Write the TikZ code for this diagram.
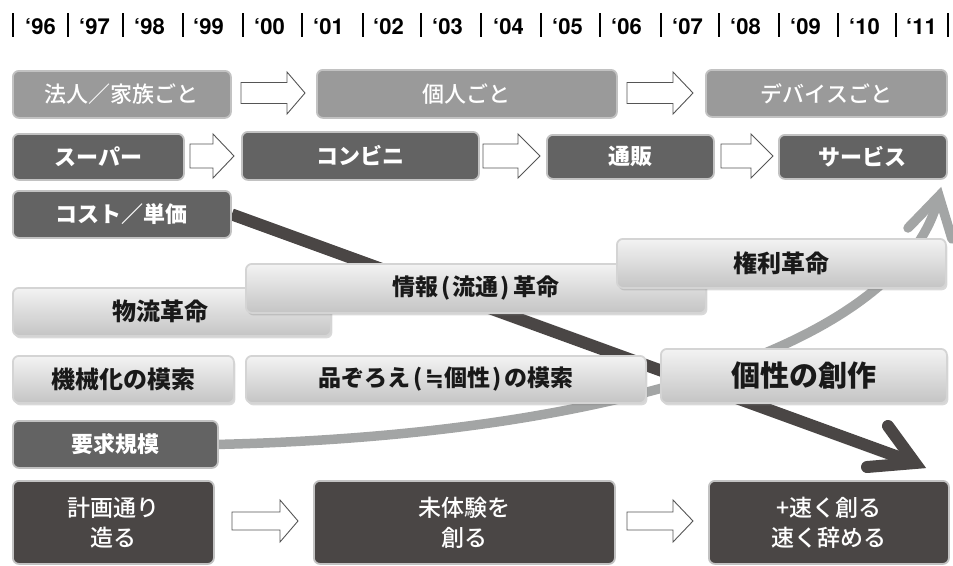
\documentclass[tikz,border=0pt]{standalone}
\usepackage{fontspec}
\setmainfont{TeX Gyre Heros}
\newfontfamily\jp{Noto Sans CJK JP}
\newfontfamily\jpm{Noto Sans CJK JP Medium}
\newfontfamily\dv{DejaVu Sans}
\usetikzlibrary{shadows}
\pgfdeclarelayer{bg}
\pgfsetlayers{bg,main}
\definecolor{rowa}{HTML}{9A9A9A}
\definecolor{rowb}{HTML}{636363}
\definecolor{rowc}{HTML}{4A4645}
\definecolor{rim}{HTML}{C2C2C2}
\definecolor{glt}{HTML}{F3F3F3}
\definecolor{gdk}{HTML}{C4C4C4}
\definecolor{grim}{HTML}{D4D4D4}
\definecolor{curvec}{HTML}{A3A5A5}
\definecolor{arrline}{HTML}{555555}
\newcommand\hollowarr[6]{\draw[hollow] (#1,{#3-#4}) -- (#5,{#3-#4}) -- (#5,{#3-#6}) -- (#2,#3) -- (#5,{#3+#6}) -- (#5,{#3+#4}) -- (#1,{#3+#4}) -- cycle;}
\newcommand\fs[2]{\fontsize{#1}{#2}\selectfont}
\newcommand\lp{\kern3pt(\kern2pt}
\newcommand\rp{\kern2pt)\kern3pt}
\begin{document}
\begin{tikzpicture}[x=1pt,y=-1pt,
  base/.style={anchor=north west, rounded corners=6pt, inner sep=0pt, align=center, text=white, line width=1.8pt},
  boxa/.style={base, fill=rowa, draw=rim, font=\jpm\fs{22}{26}},
  boxb/.style={base, fill=rowb, draw=rim, font=\jp\bfseries\fs{22}{26}},
  boxc/.style={base, fill=rowc, draw=rim, font=\jpm\fs{23}{30}},
  gbox/.style={base, top color=glt, bottom color=gdk, draw=grim, text=black!90, font=\jp\bfseries\fs{23}{27},
    drop shadow={shadow xshift=1.5pt, shadow yshift=-2.5pt, opacity=0.3}},
  hollow/.style={draw=arrline, fill=white, line width=0.9pt},
  darkl/.style={draw=rowc, line width=12pt},
  grayl/.style={draw=curvec, line width=9.5pt},
  yearlbl/.style={anchor=west, inner sep=0pt, font=\bfseries\fs{22}{26}}
]
\useasboundingbox (0,0) rectangle (953,565);

% year scale
\foreach \b in {13,68,123,183,243,302,363,421,481,541,600,661,719,779,838,896,948}
  \draw[line width=2pt] (\b,13) -- (\b,37);
\foreach \t/\y in {25/96,79/97,134/98,193/99,254/00,313/01,373/02,432/03,493/04,552/05,611/06,672/07,730/08,790/09,849/10,906/11}
  \node[yearlbl] (y\y) at (\t,26.5) {‘\y};

% row 1
\node[boxa, minimum width=218pt, minimum height=47pt] (a1) at (12,70) {法人／家族ごと};
\node[boxa, minimum width=300pt, minimum height=48pt] (a2) at (316,69) {個人ごと};
\node[boxa, minimum width=241pt, minimum height=47pt] (a3) at (705,69) {デバイスごと};
\hollowarr{241}{305}{93}{10.5}{287}{21}
\hollowarr{627}{693}{93}{10.5}{673}{21}

% row 2
\node[boxb, minimum width=171pt, minimum height=46pt] (b1) at (12,133) {スーパー};
\node[boxb, minimum width=237pt, minimum height=48pt] (b2) at (241,131) {コンビニ};
\node[boxb, minimum width=167pt, minimum height=44pt] (b3) at (546,134) {通販};
\node[boxb, minimum width=168pt, minimum height=44pt] (b4) at (778,134) {サービス};
\hollowarr{190}{234}{156}{12}{213}{22}
\hollowarr{483}{540}{156}{12}{518}{22}
\hollowarr{721}{773}{156}{12}{751}{22}

% left dark boxes
\node[boxb, minimum width=218pt, minimum height=47pt] (c) at (12,190) {コスト／単価};
\node[boxb, minimum width=205pt, minimum height=47pt] (d) at (12,420) {要求規模};

% gradient boxes
\node[gbox, minimum width=318pt, minimum height=48pt, font=\jp\bfseries\fs{24}{28}] (g1) at (12,287) {物流革命\hspace*{22pt}};
\node[gbox, minimum width=460pt, minimum height=49pt] (g2) at (245,263) {情報\lp 流通\rp 革命};
\node[gbox, minimum width=329pt, minimum height=49pt, font=\jp\bfseries\fs{24}{28}] (g3) at (616,238) {権利革命};
\node[gbox, minimum width=221pt, minimum height=47pt, font=\jp\bfseries\fs{24}{28}] (g4) at (12,355) {機械化の模索};
\node[gbox, minimum width=400pt, minimum height=47pt] (g5) at (245,355) {品ぞろえ\lp{\dv\bfseries ≒}個性\rp の模索};
\node[gbox, minimum width=286pt, minimum height=54pt, font=\jp\bfseries\fs{29}{33}] (g6) at (660,348) {個性の創作};

% bottom row
\node[boxc, minimum width=201pt, minimum height=83pt] (e1) at (12,480) {計画通り\\造る};
\node[boxc, minimum width=301pt, minimum height=83pt] (e2) at (313,480) {未体験を\\創る};
\node[boxc, minimum width=240pt, minimum height=83pt] (e3) at (708,480) {+速く創る\\速く辞める};
\hollowarr{232}{298}{521}{9}{280}{21}
\hollowarr{627}{693}{521}{9}{673}{21}

% trend arrows (behind boxes)
\coordinate (tipD) at (915,463);
\coordinate (armD1) at (888,426);
\coordinate (armD2) at (867,467);
\coordinate (tipG) at (939,196);
\coordinate (armG1) at (908,228);
\coordinate (armG2) at (952,239);
\begin{pgfonlayer}{bg}
  \draw[grayl] (d.east) .. controls (620,435) and (904,342) .. (tipG);
  \draw[grayl, line cap=round, line join=miter] (armG1) -- (tipG) -- (armG2);
  \draw[darkl] (c.east) -- (tipD);
  \draw[darkl, line cap=round, line join=miter] (armD1) -- (tipD) -- (armD2);
\end{pgfonlayer}
\end{tikzpicture}
\end{document}
